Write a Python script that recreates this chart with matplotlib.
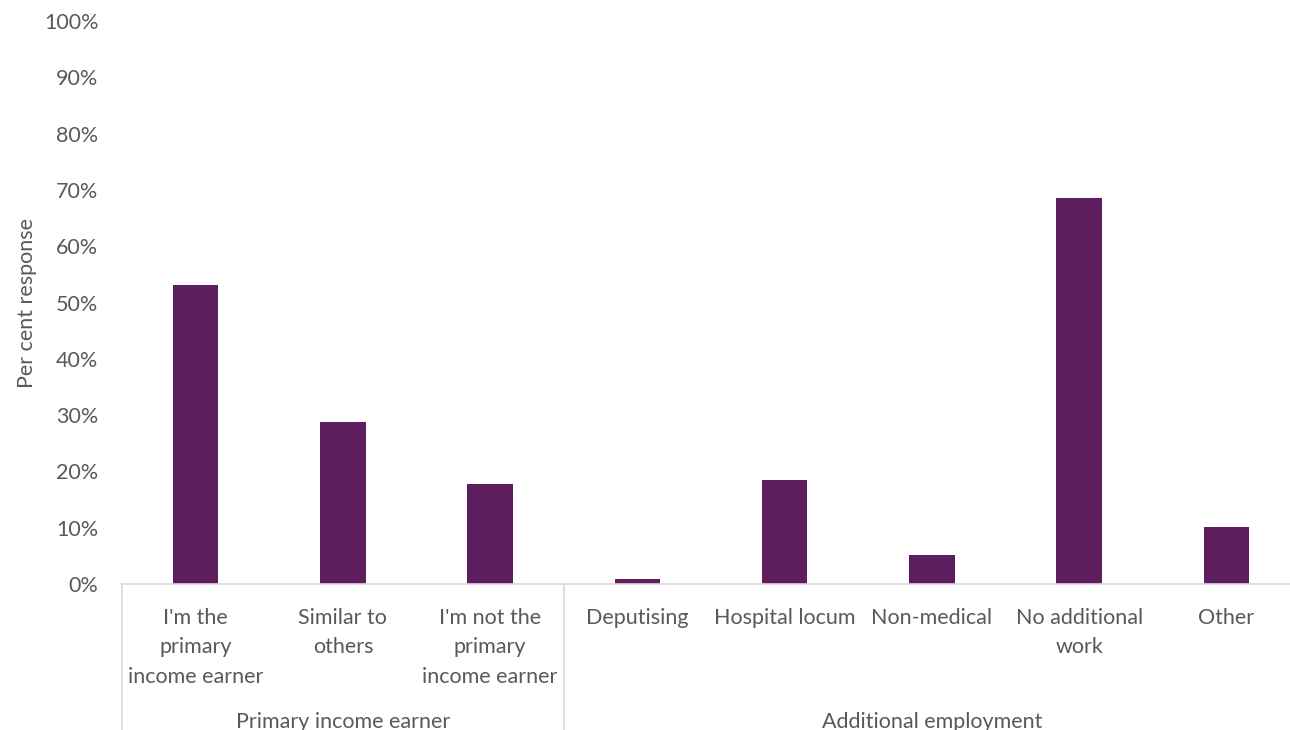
import matplotlib
matplotlib.use('Agg')
from matplotlib import pyplot as plt
import matplotlib.transforms as mtransforms

plt.rcParams['font.family'] = ['Lato', 'DejaVu Sans']

# Datos de la encuesta
categorias = ["I'm the\nprimary\nincome earner", "Similar to\nothers",
              "I'm not the\nprimary\nincome earner",
              "Deputising", "Hospital locum", "Non-medical",
              "No additional\nwork", "Other"]
valores = [53.1, 28.8, 17.8, 0.9, 18.5, 5.2, 68.6, 10.1]
grupos = ["Primary income earner", "Additional employment"]
tam_grupos = [3, 5]

color_barra = '#5E1D5F'
color_texto = '#595959'
color_eje = '#D9D9D9'
fs = 15.5

fig = plt.figure(figsize=(12.9, 7.3), dpi=100)
ax = fig.add_axes([0.0946, 0.2, 0.9132, 0.7712])

x = list(range(len(categorias)))
ax.bar(x, valores, width=0.31, color=color_barra)

ax.set_xlim(-0.5, len(categorias) - 0.5)
ax.set_ylim(0, 100)
ax.set_yticks(range(0, 101, 10))
ax.set_yticklabels([f"{v}%" for v in range(0, 101, 10)])
ax.set_xticks(x)
ax.set_xticklabels(categorias, linespacing=1.6)
ax.tick_params(axis='both', length=0, labelsize=fs, colors=color_texto)
ax.tick_params(axis='y', pad=17)
ax.tick_params(axis='x', pad=17)

for lado in ['top', 'right', 'left']:
    ax.spines[lado].set_visible(False)
ax.spines['bottom'].set_color(color_eje)
ax.spines['bottom'].set_linewidth(1.2)

ax.set_ylabel("Per cent response", fontsize=fs, color=color_texto, labelpad=5)

# Separadores y etiquetas de grupo debajo del eje
trans = mtransforms.blended_transform_factory(ax.transData, ax.transAxes)
inicio = -0.5
ax.plot([inicio, inicio], [0, -0.26], transform=trans, color=color_eje,
        lw=1.2, clip_on=False)
for nombre, n in zip(grupos, tam_grupos):
    fin = inicio + n
    ax.plot([fin, fin], [0, -0.26], transform=trans, color=color_eje,
            lw=1.2, clip_on=False)
    ax.text((inicio + fin) / 2, -0.245, nombre, transform=trans,
            ha='center', va='center', fontsize=fs, color=color_texto)
    inicio = fin

fig.savefig('out.png', dpi=100)
